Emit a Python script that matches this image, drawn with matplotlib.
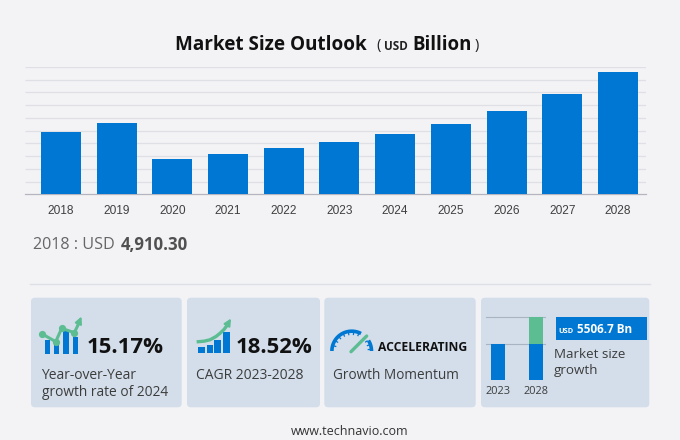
import numpy as np
import matplotlib
matplotlib.use("Agg")
import matplotlib.pyplot as plt
from matplotlib.patches import FancyBboxPatch, Rectangle, FancyArrowPatch

years = ["2018", "2019", "2020", "2021", "2022", "2023", "2024", "2025", "2026", "2027", "2028"]
values = [4910.30, 5590, 2790, 3160, 3600, 4100, 4723, 5510, 6530, 7860, 9607]
grid_values = [1000, 2000, 3000, 4000, 5000, 6000, 7000, 8000, 9000, 10000]
mini_years = ["2023", "2028"]
mini_base = [4100, 4100]
mini_growth = [0, 3020]

BG = "#F3F3F6"
BLUE = "#0077D2"
GREEN = "#5CBD92"
CARD = "#D3DEEA"
W, H = 680, 440
SANS = "Open Sans"

fig = plt.figure(figsize=(6.8, 4.4), dpi=100, facecolor=BG)

# overlay in pixel coordinates for the decorative panels and text
ov = fig.add_axes([0, 0, 1, 1], zorder=0)
ov.set_xlim(0, W)
ov.set_ylim(H, 0)
ov.axis("off")

def T(x, y, s, size, weight="normal", color="#3c3c3c", ha="left", family=SANS):
    ov.text(x, y + 1.2, s, fontsize=size, fontweight=weight, color=color, ha=ha, va="center", family=family)

# main chart
ax = fig.add_axes([25 / W, 1 - 194.3 / H, 621 / W, 127.3 / H], zorder=2)
ax.patch.set_alpha(0)
x = np.arange(len(years))
ax.bar(x, values, width=0.718, color=BLUE, zorder=3)
ax.set_xlim(-0.646, 10.503)
ax.set_ylim(0, 10000)
ax.hlines(grid_values, -0.646, 10.503, color="#DFE0E6", lw=0.9, zorder=1)
ax.set_xticks(x, years, fontsize=8.6, family="Liberation Sans", color="#404040")
ax.set_yticks([])
ax.tick_params(axis="x", length=0, pad=8)
for s in ["top", "left", "right"]:
    ax.spines[s].set_visible(False)
ax.spines["bottom"].set_color("#B4B5BE")
ax.spines["bottom"].set_linewidth(0.9)

# title
T(175, 43.5, "Market Size Outlook", 13.6, "bold", "#111111")
T(376, 44, "(", 10.5, "normal", "#222222")
T(384, 45, "USD", 8.4, "bold", "#222222")
T(412.5, 43.5, "Billion", 13.4, "bold", "#111111")
T(475, 44, ")", 10.5, "normal", "#222222")

# selected value
T(33, 244, "2018 : USD", 11.6, "normal", "#666666")
T(120.5, 243.5, "4,910.30", 12.1, "bold", "#505050")

# divider
ov.plot([30, 650], [284, 284], color="#DEDFE5", lw=1)

# cards
for x0, x1 in [(31, 181.7), (187, 320), (324.3, 475.7), (481, 649.3)]:
    ov.add_patch(FancyBboxPatch((x0 + 4, 297.7 + 4), x1 - x0 - 8, 109.6 - 8,
                                boxstyle="round,pad=4,rounding_size=4", fc=CARD, ec="none"))

# card 1 icon
for x0, x1, top in [(45, 50, 340), (54.3, 59, 345), (63.3, 69, 330.7), (73.3, 78.3, 336.7)]:
    ov.add_patch(Rectangle((x0, top), x1 - x0, 354.5 - top, fc=BLUE, ec="none"))
lx = [42.3, 55.7, 61.7, 74.3, 79]
ly = [334, 341.7, 328.3, 332.7, 323]
ov.plot(lx, ly, color=GREEN, lw=2.2, solid_capstyle="round")
ov.plot(lx[:4], ly[:4], "o", color=GREEN, ms=5.2, mew=0)
ov.add_patch(FancyArrowPatch((77, 327), (81.5, 316.5), arrowstyle="-|>", mutation_scale=10,
                             color=GREEN, lw=1.5, shrinkA=0, shrinkB=0))

T(87, 346.5, "15.17%", 15.9, "bold", "#111111")
T(41.5, 374.5, "Year-over-Year", 10.0)
T(41.5, 391, "growth rate of 2024", 9.9)

# card 2 icon
for x0, x1, top in [(198, 205, 346.7), (206.7, 212.7, 345), (214, 220.7, 340), (222.7, 230, 331.7)]:
    ov.add_patch(Rectangle((x0, top), x1 - x0, 353.5 - top, fc=BLUE, ec="none"))
cx = [198.3, 204, 210, 216, 220, 224, 227]
cy = [341.7, 341.2, 339.8, 336.5, 333.3, 329.5, 325.5]
ov.plot(cx, cy, color=GREEN, lw=2.4)
ov.add_patch(FancyArrowPatch((226, 327), (231, 318.5), arrowstyle="-|>", mutation_scale=10,
                             color=GREEN, lw=1.5, shrinkA=0, shrinkB=0))

T(236, 346.5, "18.52%", 15.9, "bold", "#111111")
T(195.5, 374, "CAGR 2023-2028", 10.0)

# card 3 gauge
gx, gy, gr = 351.7, 351, 19.8
for a0, a1 in [(0, 32), (62, 180)]:
    ang = np.radians(np.linspace(a0, a1, 60))
    ov.plot(gx + gr * np.cos(ang), gy - gr * np.sin(ang), color=BLUE, lw=2.6, solid_capstyle="butt")
for a in list(range(5, 35, 14)) + list(range(68, 180, 16)):
    r = np.radians(a)
    ov.plot([gx + 16 * np.cos(r), gx + 19 * np.cos(r)], [gy - 16 * np.sin(r), gy - 19 * np.sin(r)],
            color=BLUE, lw=0.9, solid_capstyle="butt")
ov.plot([351, 366.7], [351.7, 336], color=GREEN, lw=2.4, solid_capstyle="round")

T(377.5, 346.5, "ACCELERATING", 8.7, "bold", "#111111")
T(333, 374, "Growth Momentum", 9.8)

# card 4 mini chart
ov.plot([486, 545], [316.7, 316.7], color="#A9B4C2", lw=0.8)
ov.plot([486, 545], [343.7, 343.7], color="#A9B4C2", lw=0.8)
mini = fig.add_axes([483 / W, 1 - 380.3 / H, 68 / W, 63.6 / H], zorder=2)
mini.patch.set_alpha(0)
mx = np.arange(2)
mini.bar(mx, mini_base, width=0.363, color=BLUE)
mini.bar(mx, mini_growth, bottom=mini_base, width=0.363, color=GREEN)
mini.set_xlim(-0.398, 1.406)
mini.set_ylim(0, 7120)
mini.set_xticks(mx, mini_years, fontsize=7.9, family=SANS, color="#3c3c3c")
mini.set_yticks([])
mini.tick_params(axis="x", length=0, pad=4)
for s in mini.spines.values():
    s.set_visible(False)

ov.add_patch(Rectangle((556, 317.3), 90.7, 22.7, fc=BLUE, ec="none"))
T(558.7, 330, "USD", 5.4, "bold", "white")
T(577, 328, "5506.7 Bn", 8.5, "bold", "white")
T(554, 353, "Market size", 9.6)
T(554, 369.5, "growth", 9.6)

# footer
T(350, 430, "www.technavio.com", 9.0, "normal", "#333333", ha="center")

fig.savefig("out.png", dpi=100, facecolor=BG)
